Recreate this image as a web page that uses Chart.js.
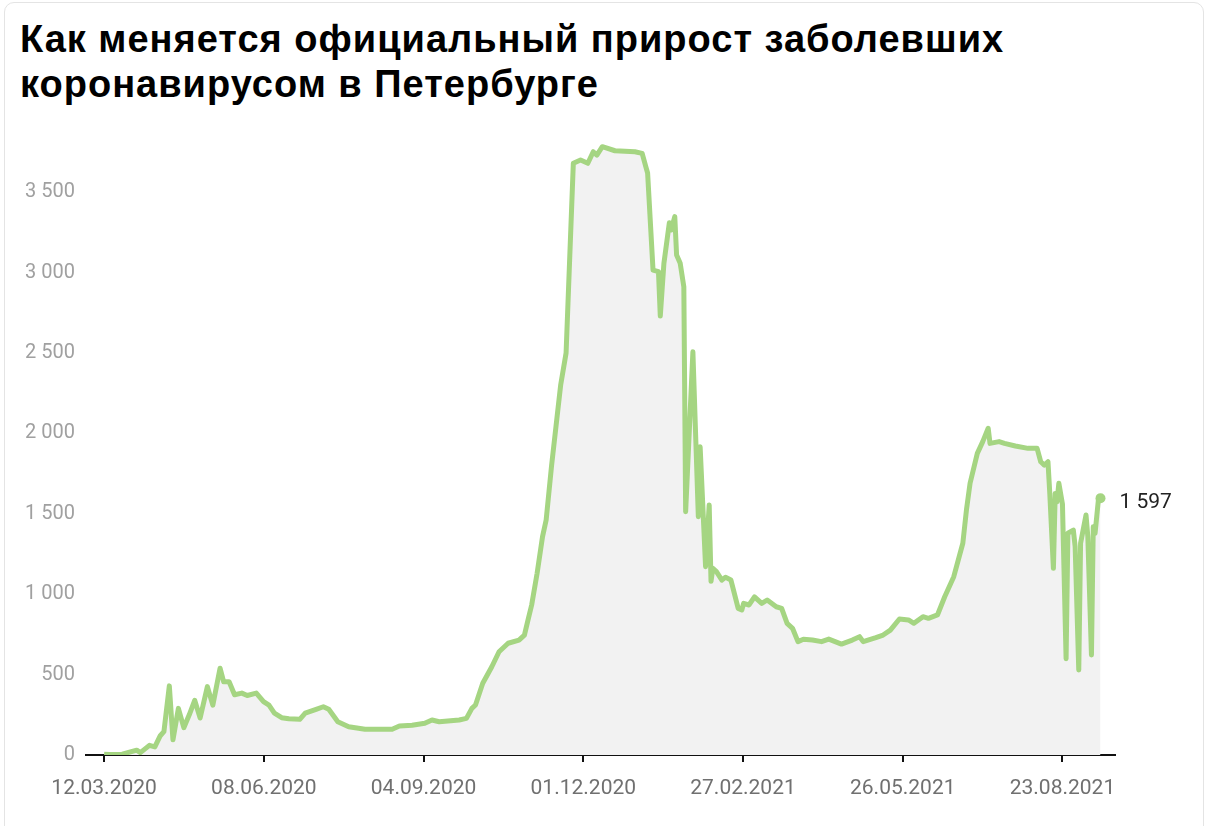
<!DOCTYPE html>
<html lang="ru">
<head>
<meta charset="utf-8">
<script src="https://cdn.jsdelivr.net/npm/chart.js@4.4.1/dist/chart.umd.min.js"></script>
<style>
  html, body { margin: 0; padding: 0; background: #fff; overflow: hidden; }
  .card {
    position: absolute; left: 4px; top: 2px; width: 1200px; height: 900px;
    border: 1px solid #e4e4e4; border-radius: 10px; box-sizing: border-box;
  }
  h1 {
    position: absolute; left: 20px; top: 17px; margin: 0; width: 1150px;
    font-family: "Liberation Sans", Arial, sans-serif; font-weight: bold;
    font-size: 38px; line-height: 45px; letter-spacing: 1px; color: #000;
  }
  .wrap { position: absolute; left: 0; top: 120px; width: 1210px; height: 700px; }
</style>
</head>
<body>
<div class="card"></div>
<h1>Как меняется официальный прирост заболевших<br>коронавирусом в Петербурге</h1>
<div class="wrap"><canvas id="chart"></canvas></div>
<script>
  // day 0 = 12.03.2020
  const startDate = Date.UTC(2020, 2, 12);

  const days = [
    0, 3, 10, 18, 20, 25, 28, 31, 33, 36, 38, 41, 44, 47, 50, 53, 57, 60, 64, 66,
    69, 72, 76, 79, 84, 88, 91, 94, 98, 102, 108, 111, 117, 121, 124, 129, 135, 144, 159, 163,
    170, 177, 181, 185, 196, 200, 203, 205, 209, 214, 218, 223, 229, 232, 234, 236, 239, 242, 244, 247,
    250, 252, 255, 259, 263, 267, 270, 272, 275, 282, 293, 297, 299, 300, 303, 306, 307, 309, 312, 313,
    315, 316, 318, 320, 321, 325, 328, 329, 332, 334, 335, 336, 338, 341, 343, 346, 350, 352, 353, 356,
    359, 363, 366, 371, 374, 377, 380, 383, 386, 391, 396, 400, 407, 413, 417, 419, 426, 430, 434, 439,
    444, 447, 452, 455, 460, 464, 469, 474, 476, 478, 482, 485, 488, 489, 494, 497, 503, 510, 515, 517,
    519, 521, 522, 524, 525, 526, 527, 529, 531, 532, 535, 536, 538, 539, 542, 543, 545, 546, 547, 549,
    550
  ];

  const cases = [
    5, 3, 5, 30, 15, 60, 50, 120, 145, 430, 95, 290, 170, 250, 340, 230, 425, 310, 540, 455,
    455, 375, 385, 370, 385, 332, 310, 260, 232, 225, 222, 260, 284, 300, 284, 207, 176, 160, 160, 180,
    185, 197, 218, 207, 218, 228, 290, 311, 446, 549, 642, 695, 715, 746, 840, 933, 1130, 1358, 1461, 1800,
    2100, 2300, 2500, 3680, 3700, 3680, 3752, 3731, 3783, 3758, 3752, 3742, 3659, 3620, 3016, 3006, 2730, 3058, 3310, 3265,
    3348, 3110, 3058, 2912, 1513, 2508, 1482, 1917, 1171, 1555, 1080, 1161, 1140, 1088, 1105, 1088, 912, 902, 943, 933,
    984, 943, 964, 922, 912, 819, 788, 705, 720, 715, 705, 721, 690, 715, 736, 705, 730, 746, 777, 846,
    840, 819, 860, 850, 871, 984, 1109, 1317, 1524, 1690, 1876, 1949, 2032, 1938, 1949, 1938, 1922, 1907, 1907, 1824,
    1803, 1824, 1627, 1161, 1627, 1575, 1690, 1560, 599, 1379, 1399, 1296, 529, 1317, 1493, 1358, 622, 1420, 1379, 1606,
    1597
  ];

  // x ticks: 7 evenly spaced dates from 12.03.2020 to 23.08.2021 (day 529)
  const lastTickDay = 529;
  const xTicks = [0, 1, 2, 3, 4, 5, 6].map(i => i * lastTickDay / 6);
  const yTicks = [0, 500, 1000, 1500, 2000, 2500, 3000, 3500];

  const fmtNum = v => String(v).replace(/\B(?=(\d{3})+(?!\d))/g, ' ');
  const fmtDate = d => {
    const dt = new Date(startDate + Math.floor(d) * 86400000);
    const dd = String(dt.getUTCDate()).padStart(2, '0');
    const mm = String(dt.getUTCMonth() + 1).padStart(2, '0');
    return dd + '.' + mm + '.' + dt.getUTCFullYear();
  };

  const points = days.map((d, i) => ({ x: d, y: cases[i] }));
  const lastIdx = points.length - 1;

  const endLabel = {
    id: 'endLabel',
    afterDatasetsDraw(chart) {
      const pt = chart.getDatasetMeta(0).data[lastIdx];
      const ctx = chart.ctx;
      ctx.save();
      ctx.font = '21px Roboto';
      ctx.fillStyle = '#222';
      ctx.textBaseline = 'middle';
      ctx.fillText(fmtNum(cases[lastIdx]), pt.x + 19, pt.y + 5);
      ctx.restore();
    }
  };

  const config = {
    type: 'line',
    data: {
      datasets: [{
        data: points,
        borderColor: '#a5d582',
        backgroundColor: '#f2f2f2',
        borderWidth: 5,
        fill: 'origin',
        tension: 0,
        borderJoinStyle: 'round',
        pointRadius: ctx => ctx.dataIndex === lastIdx ? 5 : 0,
        pointBackgroundColor: '#a5d582',
        pointBorderWidth: 0
      }]
    },
    options: {
      responsive: true,
      maintainAspectRatio: false,
      animation: false,
      layout: { padding: { left: 0, right: 95, top: 24, bottom: 15 } },
      plugins: { legend: { display: false }, tooltip: { enabled: false } },
      scales: {
        x: {
          type: 'linear',
          min: -10,
          max: 558,
          afterBuildTicks: s => { s.ticks = xTicks.map(v => ({ value: v })); },
          afterFit: s => { s.height = 50; },
          border: { display: true, color: '#111', width: 2 },
          grid: { drawOnChartArea: false, drawTicks: true, tickLength: 7, color: '#111', lineWidth: 2 },
          ticks: {
            callback: v => fmtDate(v),
            color: '#707070',
            font: { family: 'Roboto', size: 21 },
            padding: 14,
            maxRotation: 0,
            autoSkip: false
          }
        },
        y: {
          min: 0,
          max: 3800,
          afterBuildTicks: s => { s.ticks = yTicks.map(v => ({ value: v })); },
          afterFit: s => { s.width = 86; },
          border: { display: false },
          grid: { display: false, drawTicks: false },
          ticks: {
            callback: v => fmtNum(v),
            color: '#a0a0a0',
            font: { family: 'Roboto', size: 20 },
            padding: 11
          }
        }
      }
    },
    plugins: [endLabel]
  };

  new Chart(document.getElementById('chart'), config);
</script>
</body>
</html>
